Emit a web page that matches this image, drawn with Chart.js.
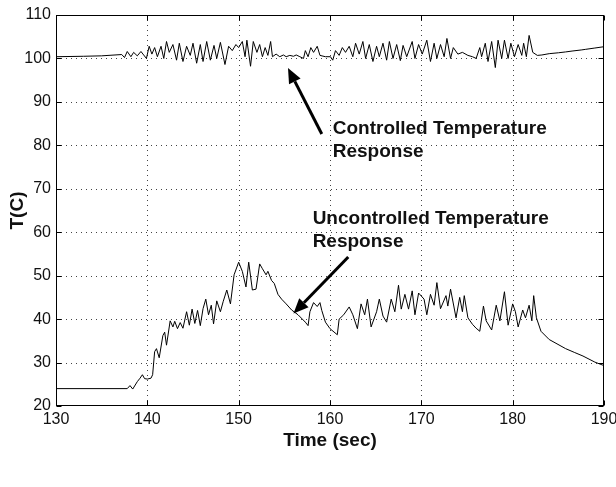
<!DOCTYPE html>
<html>
<head>
<meta charset="utf-8">
<script src="https://cdn.jsdelivr.net/npm/chart.js@4.4.0/dist/chart.umd.min.js"></script>
<style>
    html, body { margin: 0; padding: 0; background: #fff; }
    #wrap { width: 616px; height: 487px; }
</style>
</head>
<body>
<div id="wrap"><canvas id="tempChart" width="616" height="487"></canvas></div>
<script>
// Values: time in sec, temperature in C
const controlledTime = [
    130, 133, 135, 137.2, 137.5, 137.8, 138.2, 138.5, 138.9, 139.3, 139.6, 139.9,
    140.2, 140.5, 140.8, 141.1, 141.5, 141.8, 142.1, 142.4, 142.8, 143.2, 143.5, 143.9,
    144.3, 144.7, 145.0, 145.4, 145.8, 146.1, 146.5, 146.9, 147.3, 147.6, 148.0, 148.5,
    148.9, 149.3, 149.7, 150.0, 150.4, 150.7, 150.9, 151.3, 151.6, 152.0, 152.3, 152.6,
    152.9, 153.2, 153.5, 153.7, 154.1, 154.5, 154.9, 155.2, 155.6, 156.0, 156.3, 156.7,
    157.1, 157.3, 157.6, 157.9, 158.2, 158.6, 158.9, 159.5, 160.05, 160.3, 160.6, 161.0,
    161.35, 161.7, 162.1, 162.5, 162.8, 163.2, 163.6, 163.9, 164.3, 164.7, 165.1, 165.4,
    165.8, 166.2, 166.5, 166.9, 167.3, 167.7, 168.0, 168.4, 169.0, 169.3, 169.7, 170.1,
    170.6, 171.0, 171.4, 171.7, 172.1, 172.5, 172.8, 173.2, 173.5, 174.0, 174.5, 175.1,
    175.6, 176.0, 176.4, 176.6, 177.0, 177.3, 177.7, 178.1, 178.4, 178.8, 179.1, 179.5,
    179.8, 180.2, 180.6, 181.0, 181.2, 181.5, 181.8, 182.2, 182.7, 183.2, 184.0, 185.0,
    185.8, 186.5, 187.5, 188.0, 189.0, 190.0
];
const controlledTemp = [
    100.4, 100.5, 100.6, 100.9, 100.2, 101.6, 100.4, 101.4, 100.6, 101.6, 100.8, 100.0,
    102.8, 101.0, 102.5, 100.4, 102.8, 100.0, 103.9, 101.4, 103.2, 99.6, 103.5, 99.3,
    102.8, 100.7, 103.5, 98.9, 103.2, 99.3, 103.9, 99.6, 103.0, 100.0, 103.7, 98.6,
    102.8, 101.8, 103.2, 102.5, 103.9, 100.4, 104.2, 98.2, 103.9, 101.4, 103.2, 100.4,
    102.5, 100.7, 103.9, 100.4, 101.0, 100.4, 100.8, 100.4, 100.7, 100.5, 100.8, 100.4,
    100.0, 101.8, 100.4, 102.5, 101.4, 102.8, 100.7, 100.4, 100.4, 99.6, 101.8, 100.7,
    102.5, 101.4, 102.8, 100.4, 103.5, 101.0, 103.9, 100.0, 103.2, 99.3, 102.8, 100.4,
    103.5, 99.6, 103.9, 100.0, 103.2, 99.5, 103.0, 100.4, 103.9, 100.0, 103.2, 101.0,
    104.2, 99.3, 103.5, 100.0, 103.2, 100.4, 104.6, 100.0, 102.5, 101.0, 101.4, 100.7,
    100.4, 100.0, 102.5, 100.4, 103.5, 99.3, 103.9, 97.9, 104.2, 100.0, 104.2, 100.0,
    103.5, 100.4, 103.2, 100.7, 103.5, 100.4, 105.3, 101.4, 100.7, 100.8, 101.1, 101.3,
    101.5, 101.7, 101.95, 102.1, 102.4, 102.7
];

const uncontrolledTime = [
    130, 137.8, 138.1, 138.4, 138.9, 139.2, 139.46, 139.7, 140.0, 140.4, 140.58, 140.8,
    141.0, 141.3, 141.7, 141.9, 142.1, 142.5, 142.8, 143.0, 143.3, 143.6, 143.9, 144.3,
    144.6, 144.9, 145.2, 145.5, 145.8, 146.1, 146.4, 146.7, 147.0, 147.25, 147.6, 148.0,
    148.3, 148.7, 149.1, 149.5, 150.0, 150.4, 150.8, 151.1, 151.5, 151.9, 152.3, 152.6,
    153.0, 153.2, 153.6, 153.9, 154.3, 154.7, 155.2, 155.8, 156.5, 157.3, 157.6, 157.8,
    158.2, 158.6, 158.9, 159.1, 159.5, 160.0, 160.8, 161.0, 161.5, 162.1, 162.5, 163.0,
    163.4, 163.8, 164.1, 164.5, 165.1, 165.4, 165.8, 166.2, 166.7, 167.1, 167.5, 167.8,
    168.2, 168.6, 169.0, 169.3, 169.7, 170.3, 170.6, 171.0, 171.4, 171.7, 172.1, 172.7,
    172.9, 173.2, 173.8, 174.2, 174.5, 174.7, 175.1, 175.6, 176.0, 176.4, 176.8, 177.1,
    177.7, 178.2, 178.6, 179.1, 179.5, 180.0, 180.3, 180.6, 181.1, 181.4, 181.8, 182.1,
    182.3, 182.6, 183.1, 184.0, 185.8, 186.8, 187.7, 189.0, 190.0
];
const uncontrolledTemp = [
    24.0, 24.0, 24.7, 23.9, 25.6, 26.4, 27.2, 26.3, 26.2, 26.4, 27.2, 32.5,
    33.2, 31.1, 36.2, 37.0, 34.0, 39.6, 38.2, 39.5, 37.8, 39.2, 37.9, 41.7,
    38.6, 42.3, 39.0, 42.0, 38.5, 42.4, 44.6, 41.0, 43.2, 38.9, 44.2, 41.7,
    44.0, 46.7, 43.5, 50.2, 53.1, 51.0, 47.4, 53.1, 46.7, 46.9, 52.7, 51.6,
    50.2, 51.0, 48.9, 48.2, 45.7, 44.6, 43.5, 42.1, 41.0, 39.3, 38.5, 41.7,
    43.8, 42.9, 43.8, 42.0, 39.3, 37.8, 36.4, 40.0, 41.0, 42.8, 41.0, 37.8,
    43.5, 41.0, 44.6, 38.2, 41.7, 44.6, 40.7, 39.3, 44.6, 41.7, 47.8, 42.3,
    45.7, 42.3, 46.5, 41.0, 46.0, 44.6, 41.0, 45.7, 43.2, 48.4, 42.4, 45.4,
    43.0, 46.9, 40.3, 45.0, 41.7, 45.4, 40.3, 38.8, 37.9, 37.2, 43.0, 39.6,
    37.5, 43.2, 39.6, 46.3, 38.6, 43.5, 41.7, 38.2, 42.1, 40.3, 43.2, 39.6,
    45.4, 40.3, 37.2, 35.3, 33.2, 32.3, 31.5, 30.1, 29.3
];

const xTicks = [130, 140, 150, 160, 170, 180, 190];
const yTicks = [20, 30, 40, 50, 60, 70, 80, 90, 100, 110];

// Annotation texts and arrows, placed in data units
const noteLines = [
    { text: 'Controlled Temperature', t: 160.3, T: 82.7 },
    { text: 'Response', t: 160.3, T: 77.4 },
    { text: 'Uncontrolled Temperature', t: 158.1, T: 61.9 },
    { text: 'Response', t: 158.1, T: 56.6 }
];
const noteArrows = [
    { from: [159.1, 82.6], to: [155.4, 97.8] },
    { from: [162.0, 54.3], to: [156.0, 41.3] }
];

const AREA = { left: 56, top: 15, right: 604, bottom: 406 };
const W = 616, H = 487;
const TEXT_FONT = '"Liberation Sans", Arial, Helvetica, sans-serif';

function drawArrow(ctx, x0, y0, x1, y1) {
    const ang = Math.atan2(y1 - y0, x1 - x0);
    const headLen = 15, headHalf = 6.5;
    const bx = x1 - headLen * Math.cos(ang);
    const by = y1 - headLen * Math.sin(ang);
    ctx.lineWidth = 3;
    ctx.beginPath();
    ctx.moveTo(x0, y0);
    ctx.lineTo(bx, by);
    ctx.stroke();
    ctx.beginPath();
    ctx.moveTo(x1, y1);
    ctx.lineTo(bx + headHalf * Math.sin(ang), by - headHalf * Math.cos(ang));
    ctx.lineTo(bx - headHalf * Math.sin(ang), by + headHalf * Math.cos(ang));
    ctx.closePath();
    ctx.fill();
}

// Dotted grid, boxed axes with inward ticks, and the text notes
const matlabAxes = {
    id: 'matlabAxes',
    beforeDatasetsDraw(chart) {
        const { ctx, chartArea: a, scales: { x, y } } = chart;
        ctx.save();
        ctx.strokeStyle = '#444';
        ctx.lineWidth = 1;
        ctx.setLineDash([1, 4]);
        xTicks.forEach(v => {
            if (v === x.min || v === x.max) return;
            const px = Math.round(x.getPixelForValue(v)) + 0.5;
            ctx.beginPath();
            ctx.moveTo(px, a.top);
            ctx.lineTo(px, a.bottom);
            ctx.stroke();
        });
        yTicks.forEach(v => {
            if (v === y.min || v === y.max) return;
            const py = Math.round(y.getPixelForValue(v)) + 0.5;
            ctx.beginPath();
            ctx.moveTo(a.left, py);
            ctx.lineTo(a.right, py);
            ctx.stroke();
        });
        ctx.restore();
    },
    afterDatasetsDraw(chart) {
        const { ctx, chartArea: a, scales: { x, y } } = chart;
        ctx.save();
        ctx.strokeStyle = '#000';
        ctx.fillStyle = '#000';
        ctx.lineWidth = 1;
        ctx.setLineDash([]);
        const l = Math.round(a.left) + 0.5, r = Math.round(a.right) - 0.5;
        const t = Math.round(a.top) + 0.5, b = Math.round(a.bottom) - 0.5;
        ctx.strokeRect(l, t, r - l, b - t);
        const tick = 5;
        ctx.beginPath();
        xTicks.forEach(v => {
            const px = Math.round(x.getPixelForValue(v)) + 0.5;
            ctx.moveTo(px, b); ctx.lineTo(px, b - tick);
            ctx.moveTo(px, t); ctx.lineTo(px, t + tick);
        });
        yTicks.forEach(v => {
            const py = Math.round(y.getPixelForValue(v)) + 0.5;
            ctx.moveTo(l, py); ctx.lineTo(l + tick, py);
            ctx.moveTo(r, py); ctx.lineTo(r - tick, py);
        });
        ctx.stroke();

        // notes
        ctx.font = 'bold 19px ' + TEXT_FONT;
        ctx.fillStyle = '#111';
        ctx.textAlign = 'left';
        ctx.textBaseline = 'alphabetic';
        noteLines.forEach(n => {
            ctx.fillText(n.text, x.getPixelForValue(n.t), y.getPixelForValue(n.T));
        });
        ctx.fillStyle = '#000';
        noteArrows.forEach(ar => {
            drawArrow(ctx,
                x.getPixelForValue(ar.from[0]), y.getPixelForValue(ar.from[1]),
                x.getPixelForValue(ar.to[0]), y.getPixelForValue(ar.to[1]));
        });
        ctx.restore();
    }
};

function toPoints(xs, ys) {
    return xs.map((v, i) => ({ x: v, y: ys[i] }));
}

const lineStyle = {
    borderColor: '#000',
    borderWidth: 1,
    pointRadius: 0,
    tension: 0,
    fill: false
};

Chart.defaults.font.family = TEXT_FONT;
Chart.defaults.color = '#000';

new Chart(document.getElementById('tempChart').getContext('2d'), {
    type: 'line',
    data: {
        datasets: [
            { label: 'Controlled', data: toPoints(controlledTime, controlledTemp), ...lineStyle },
            { label: 'Uncontrolled', data: toPoints(uncontrolledTime, uncontrolledTemp), ...lineStyle }
        ]
    },
    options: {
        responsive: false,
        devicePixelRatio: 1,
        animation: false,
        layout: { padding: { left: 0, top: AREA.top, right: W - AREA.right, bottom: 0 } },
        plugins: { legend: { display: false }, tooltip: { enabled: false } },
        scales: {
            x: {
                type: 'linear',
                min: 130,
                max: 190,
                afterBuildTicks: s => { s.ticks = xTicks.map(v => ({ value: v })); },
                afterFit: s => { s.height = H - AREA.bottom; s.paddingLeft = 0; s.paddingRight = 0; },
                ticks: { font: { size: 16 }, color: '#111', padding: 4, maxRotation: 0, autoSkip: false },
                grid: { display: false, drawTicks: false },
                border: { display: false },
                title: {
                    display: true,
                    text: 'Time (sec)',
                    font: { size: 19, weight: 'bold', lineHeight: 1 },
                    color: '#111',
                    padding: { top: 0, bottom: 37 }
                }
            },
            y: {
                type: 'linear',
                min: 20,
                max: 110,
                afterBuildTicks: s => { s.ticks = yTicks.map(v => ({ value: v })); },
                afterFit: s => { s.width = AREA.left; s.paddingTop = 0; s.paddingBottom = 0; },
                ticks: { font: { size: 16 }, color: '#111', padding: 5, autoSkip: false },
                grid: { display: false, drawTicks: false },
                border: { display: false },
                title: {
                    display: true,
                    text: 'T(C)',
                    font: { size: 19, weight: 'bold', lineHeight: 1 },
                    color: '#111',
                    padding: { top: 8, bottom: 0 }
                }
            }
        }
    },
    plugins: [matlabAxes]
});
</script>
</body>
</html>
